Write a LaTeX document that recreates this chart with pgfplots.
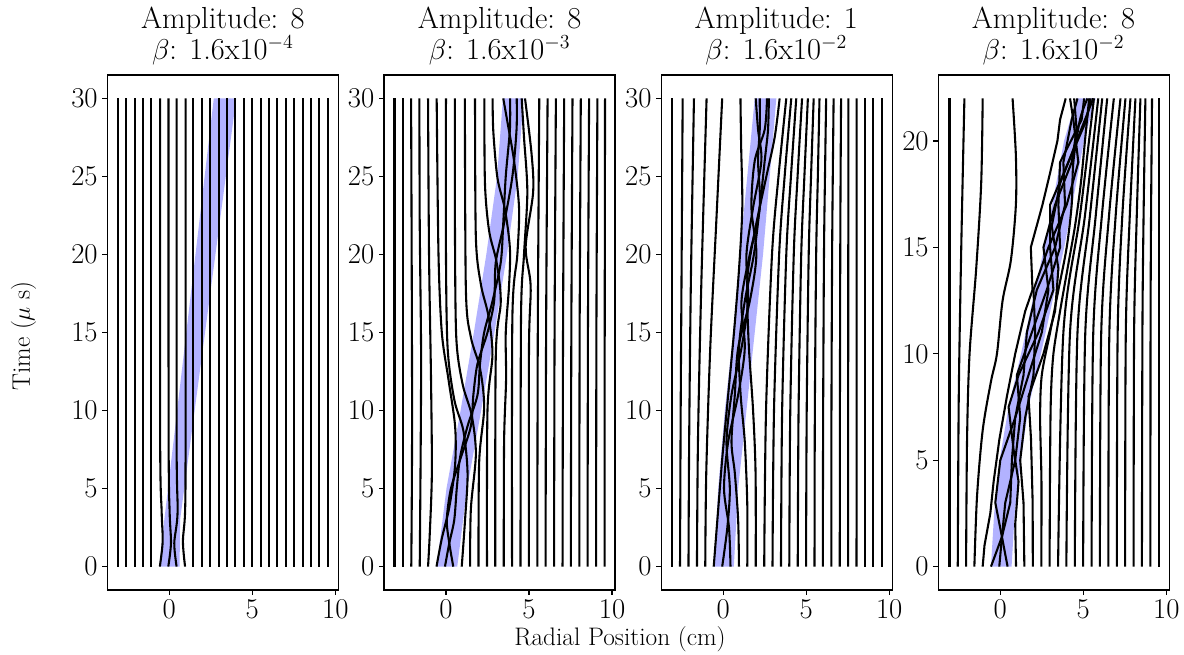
\documentclass[border=0pt]{standalone}
\usepackage{pgfplots}
\pgfplotsset{compat=1.18}
\definecolor{bandblue}{RGB}{178,178,255}
\newcommand{\tickf}{\fontsize{20}{24}\selectfont}
\newcommand{\labf}{\fontsize{18.3}{22}\selectfont}
\newcommand{\titf}{\fontsize{22}{22.3bp}\selectfont}
\begin{document}
\begin{tikzpicture}
\path[use as bounding box] (0bp,0bp) rectangle (852.48bp,471.6bp);
\pgfplotsset{
  panel/.style={
    scale only axis, width=166.3bp, height=370.8bp, anchor=south west,
    xmin=-3.73, xmax=10.18, xtick={0,5,10},
    ymin=-1.5, ymax=31.5, ytick={0,5,...,30},
    tick align=outside, tick pos=left,
    major tick length=3.5bp,
    every tick/.append style={black, line width=0.8bp},
    axis line style={line width=0.8bp},
    tick label style={font=\tickf},
  },
  traj/.style={black, line width=1.5bp, smooth, no markers},
  zig/.style={black, line width=1.5bp, sharp plot, no markers},
  bandfill/.style={fill=bandblue, draw=none, no markers},
}

% ---------- panel 1: amplitude 8, beta 1.6e-4
\begin{axis}[panel, at={(77.3bp,46.8bp)}]
\addplot[bandfill] coordinates {(-0.6,0) (-0.3,3) (2.68,30) (4.03,30) (0.65,3) (0.62,0)};
\addplot[traj] coordinates {(-3.1,0) (-3.1,30)};
\addplot[traj] coordinates {(-2.6,0) (-2.6,30)};
\addplot[traj] coordinates {(-2.09,0) (-2.09,30)};
\addplot[traj] coordinates {(-1.58,0) (-1.58,30)};
\addplot[traj] coordinates {(-1.08,0) (-1.08,30)};
\addplot[traj] coordinates {(-0.57,0) (-0.4,1.6) (-0.46,3.5) (-0.55,8) (-0.55,30)};
\addplot[traj] coordinates {(-0.06,0) (0.1,1.5) (0.02,3.5) (-0.04,8) (-0.05,30)};
\addplot[traj] coordinates {(0.44,0) (0.3,1.5) (0.5,3.5) (0.44,8) (0.44,30)};
\addplot[traj] coordinates {(0.95,0) (0.82,1.6) (0.95,3.5) (0.98,8) (0.98,30)};
\addplot[traj] coordinates {(1.45,0) (1.45,30)};
\addplot[traj] coordinates {(1.96,0) (1.96,30)};
\addplot[traj] coordinates {(2.47,0) (2.47,30)};
\addplot[traj] coordinates {(2.97,0) (2.97,30)};
\addplot[traj] coordinates {(3.48,0) (3.48,30)};
\addplot[traj] coordinates {(3.98,0) (3.98,30)};
\addplot[traj] coordinates {(4.49,0) (4.49,30)};
\addplot[traj] coordinates {(4.99,0) (4.99,30)};
\addplot[traj] coordinates {(5.5,0) (5.5,30)};
\addplot[traj] coordinates {(6.0,0) (6.0,30)};
\addplot[traj] coordinates {(6.51,0) (6.51,30)};
\addplot[traj] coordinates {(7.02,0) (7.02,30)};
\addplot[traj] coordinates {(7.52,0) (7.52,30)};
\addplot[traj] coordinates {(8.03,0) (8.03,30)};
\addplot[traj] coordinates {(8.53,0) (8.53,30)};
\addplot[traj] coordinates {(9.04,0) (9.04,30)};
\addplot[traj] coordinates {(9.55,0) (9.55,30)};
\end{axis}

% ---------- panel 2: amplitude 8, beta 1.6e-3
\begin{axis}[panel, at={(276.5bp,46.8bp)}]
\addplot[bandfill] coordinates {(-0.56,0) (0.03,5) (0.88,10) (1.68,15) (2.43,20) (3.08,25) (3.43,30)
  (4.67,30) (4.32,25) (3.67,20) (2.92,15) (2.12,10) (1.27,5) (0.68,0)};
\addplot[traj] coordinates {(-3.1,0) (-3.1,30)};
\addplot[traj] coordinates {(-2.6,0) (-2.6,30)};
\addplot[traj] coordinates {(-2.09,0) (-2.04,10) (-2.1,30)};
\addplot[traj] coordinates {(-1.58,0) (-1.52,8) (-1.5,14) (-1.58,22) (-1.6,30)};
\addplot[traj] coordinates {(-1.08,0) (-0.98,2) (-0.85,6) (-0.9,12) (-1.02,20) (-1.08,30)};
\addplot[traj] coordinates {(-0.57,0) (-0.25,1.8) (0.2,3.8) (0.55,6.5) (0.55,9) (0.15,12) (-0.25,15) (-0.45,20) (-0.56,30)};
\addplot[traj] coordinates {(-0.06,0) (0.2,1.5) (0.5,3) (0.65,5) (0.85,7) (1.3,9) (1.9,11) (2.05,13) (2.3,15) (2.8,17) (3.3,19.5) (3.45,22) (3.6,25) (3.85,28) (3.86,30)};
\addplot[traj] coordinates {(0.44,0) (0.2,1.5) (0.05,3) (0.3,5) (0.9,7) (1.5,9) (1.65,11) (1.9,13) (2.5,15) (2.9,17) (3.0,19.5) (3.5,22) (4.0,25) (4.25,28) (4.26,30)};
\addplot[traj] coordinates {(0.95,0) (1.15,3) (1.3,6) (1.05,8.7) (0.5,10.7) (0.1,14) (0.0,20) (0.0,30)};
\addplot[traj] coordinates {(1.45,0) (1.5,3.7) (1.8,7.2) (1.55,9.7) (1.0,11.7) (0.62,14.7) (0.54,22) (0.54,30)};
\addplot[traj] coordinates {(1.96,0) (2.0,6.7) (2.3,10.2) (2.05,12.7) (1.5,14.7) (1.2,17.7) (1.14,30)};
\addplot[traj] coordinates {(2.47,0) (2.5,10) (2.8,13.6) (2.55,16.1) (2.1,18.1) (1.8,21.1) (1.75,30)};
\addplot[traj] coordinates {(2.97,0) (3.0,13.5) (3.3,17) (3.05,19.5) (2.6,21.5) (2.35,24.5) (2.31,30)};
\addplot[traj] coordinates {(3.48,0) (3.5,8) (3.62,12) (3.6,15) (3.8,18) (3.85,20.4) (3.55,22.9) (3.1,24.9) (2.85,27.9) (2.81,30)};
\addplot[traj] coordinates {(3.98,0) (4.0,16) (4.3,20) (4.4,23) (4.1,26) (3.7,28.5) (3.45,30)};
\addplot[traj] coordinates {(4.49,0) (4.52,16) (4.7,20) (4.9,24) (4.7,27.5) (4.56,30)};
\addplot[traj] coordinates {(4.99,0) (5.0,14) (5.1,18) (4.8,20.5) (5.25,24) (5.15,26.5) (4.76,30)};
\addplot[traj] coordinates {(5.5,0) (5.53,15) (5.62,30)};
\addplot[traj] coordinates {(6.0,0) (6.03,15) (6.12,30)};
\addplot[traj] coordinates {(6.51,0) (6.54,15) (6.62,30)};
\addplot[traj] coordinates {(7.02,0) (7.05,15) (7.12,30)};
\addplot[traj] coordinates {(7.52,0) (7.55,15) (7.62,30)};
\addplot[traj] coordinates {(8.03,0) (8.05,15) (8.12,30)};
\addplot[traj] coordinates {(8.53,0) (8.55,15) (8.62,30)};
\addplot[traj] coordinates {(9.04,0) (9.06,15) (9.12,30)};
\addplot[traj] coordinates {(9.55,0) (9.56,15) (9.58,30)};
\end{axis}

% ---------- panel 3: amplitude 1, beta 1.6e-2
\begin{axis}[panel, at={(476.1bp,46.8bp)}]
\addplot[bandfill] coordinates {(-0.56,0) (-0.3,5) (0.1,10) (0.6,15) (1.0,20) (1.45,25) (1.9,30)
  (3.2,30) (2.8,25) (2.4,20) (1.9,15) (1.4,10) (0.9,5) (0.64,0)};
\addplot[traj] coordinates {(-3.1,0) (-3.1,30)};
\addplot[traj] coordinates {(-2.6,0) (-2.56,10) (-2.5,20) (-2.44,30)};
\addplot[traj] coordinates {(-2.09,0) (-2.05,8) (-1.95,18) (-1.76,30)};
\addplot[traj] coordinates {(-1.58,0) (-1.52,8) (-1.32,18) (-1.0,30)};
\addplot[traj] coordinates {(-1.08,0) (-1.02,6) (-0.78,14) (-0.42,22) (-0.06,30)};
\addplot[traj] coordinates {(-0.57,0) (-0.35,3) (-0.05,7) (0.3,11) (0.65,15) (0.95,19) (1.15,23) (1.08,27) (1.04,30)};
\addplot[traj] coordinates {(-0.06,0) (0.25,2.5) (0.4,5) (0.2,8) (0.5,11) (1.1,14) (1.5,17) (1.4,20) (1.8,23) (2.3,26) (2.1,28) (1.96,30)};
\addplot[traj] coordinates {(0.44,0) (0.35,2.5) (0.05,5) (0.3,8) (0.9,11) (1.3,14) (1.1,17) (1.6,20) (2.2,23) (2.1,26) (2.2,28) (2.2,30)};
\addplot[traj] coordinates {(0.95,0) (0.9,3) (0.7,6) (0.5,8) (0.7,11) (0.9,14) (1.6,17) (2.0,20) (1.7,23) (1.9,26) (2.5,28) (2.64,30)};
\addplot[traj] coordinates {(1.45,0) (1.45,4) (1.3,8) (1.05,11) (0.95,14) (1.3,17) (1.85,20) (2.2,23) (2.5,26) (2.7,28) (2.75,30)};
\addplot[traj] coordinates {(1.96,0) (1.95,6) (1.8,10) (1.55,14) (1.45,17) (1.5,19) (2.0,22) (2.6,25) (3.1,27.5) (3.4,30)};
\addplot[traj] coordinates {(2.47,0) (2.58,10) (2.94,20) (3.33,25) (3.8,30)};
\addplot[traj] coordinates {(2.97,0) (3.06,10) (3.37,20) (3.7,25) (4.1,30)};
\addplot[traj] coordinates {(3.48,0) (3.55,10) (3.8,20) (4.08,25) (4.4,30)};
\addplot[traj] coordinates {(3.98,0) (4.04,10) (4.25,20) (4.48,25) (4.75,30)};
\addplot[traj] coordinates {(4.49,0) (4.54,10) (4.7,20) (4.89,25) (5.1,30)};
\addplot[traj] coordinates {(4.99,0) (5.03,10) (5.15,20) (5.29,25) (5.45,30)};
\addplot[traj] coordinates {(5.5,0) (5.52,10) (5.6,20) (5.7,25) (5.8,30)};
\addplot[traj] coordinates {(6.0,0) (6.02,10) (6.07,20) (6.13,25) (6.2,30)};
\addplot[traj] coordinates {(6.51,0) (6.52,10) (6.56,20) (6.6,25) (6.65,30)};
\addplot[traj] coordinates {(7.02,0) (7.03,10) (7.05,20) (7.07,25) (7.1,30)};
\addplot[traj] coordinates {(7.52,0) (7.54,30)};
\addplot[traj] coordinates {(8.03,0) (8.04,30)};
\addplot[traj] coordinates {(8.53,0) (8.53,30)};
\addplot[traj] coordinates {(9.04,0) (9.04,30)};
\addplot[traj] coordinates {(9.55,0) (9.55,30)};
\end{axis}

% ---------- panel 4: amplitude 8, beta 1.6e-2
\begin{axis}[panel, at={(675.6bp,46.8bp)}, ymin=-1.1, ymax=23.1, ytick={0,5,...,20}]
\addplot[bandfill] coordinates {(-0.56,0) (-0.37,2.5) (-0.04,5) (0.5,7.5) (1.25,10) (1.95,12.5) (2.65,15) (3.25,17.5) (3.84,20) (4.6,22)
  (5.75,22) (5.04,20) (4.45,17.5) (3.85,15) (3.15,12.5) (2.45,10) (1.7,7.5) (1.24,5) (0.87,2.5) (0.68,0)};
\addplot[traj] coordinates {(-3.06,0) (-3.06,22)};
\addplot[traj] coordinates {(-2.56,0) (-2.5,8) (-2.35,15) (-2.16,22)};
\addplot[traj] coordinates {(-2.06,0) (-2.0,6) (-1.85,10) (-1.45,14) (-1.15,18) (-1.06,22)};
\addplot[traj] coordinates {(-1.56,0) (-1.4,3.3) (-1.06,6.4) (-0.56,8.7) (-0.2,10) (0.14,12.5) (0.64,14.4) (0.94,17) (0.94,19.3) (0.74,22)};
\addplot[zig] coordinates {(-1.06,0) (-0.95,1) (-0.6,2.5) (-0.4,4) (-0.05,6) (0.4,8) (0.9,10) (1.5,12) (1.94,13) (1.84,15) (2.54,17) (3.0,18.5) (3.44,20) (3.6,21) (3.94,22)};
\addplot[zig] coordinates {(-0.56,0) (0.1,1.4) (0.6,3) (0.7,5) (0.9,7) (1.7,9) (2.5,11) (2.9,13) (2.6,15) (3.3,17) (4.3,19) (4.6,20.5) (4.45,22)};
\addplot[zig] coordinates {(-0.06,0) (0.1,1.4) (-0.3,3) (0.0,5) (0.9,7) (1.4,9) (1.6,11) (2.2,13) (3.3,15) (3.9,17) (3.8,19) (4.3,21) (4.65,22)};
\addplot[zig] coordinates {(0.44,0) (0.1,1.4) (0.3,3) (0.9,5) (1.2,7) (1.0,9) (1.9,11) (2.8,13) (3.6,15) (3.5,17) (3.6,19) (4.9,21) (5.05,22)};
\addplot[zig] coordinates {(0.95,0) (0.9,2) (1.1,4) (0.8,5.5) (0.5,7.5) (1.1,9) (2.3,11) (3.2,13) (3.0,15) (3.0,17) (4.1,19) (5.2,21) (5.45,22)};
\addplot[zig] coordinates {(1.45,0) (1.4,3) (1.2,5) (1.5,7) (2.0,9) (2.1,11) (2.0,13) (2.9,15) (4.0,17) (4.7,19) (4.4,21) (4.2,22)};
\addplot[zig] coordinates {(1.96,0) (1.95,3) (1.85,6) (1.7,8) (2.6,10) (3.3,12) (3.5,14) (3.1,16) (3.6,18) (4.6,20) (5.6,22)};
\addplot[traj] coordinates {(2.47,0) (2.48,4) (2.4,7) (2.5,9) (3.0,11) (3.5,13) (4.0,15) (4.3,17) (4.4,19) (4.8,21) (5.25,22)};
\addplot[traj] coordinates {(2.97,0) (3.0,5) (3.05,8) (3.2,10) (3.6,12) (4.05,14) (4.5,16) (4.85,18) (5.1,20) (5.35,22)};
\addplot[traj] coordinates {(3.48,0) (3.8,11) (4.8,16.5) (5.64,22)};
\addplot[traj] coordinates {(3.98,0) (4.2,11) (5.1,16.5) (5.9,22)};
\addplot[traj] coordinates {(4.49,0) (4.65,11) (5.4,16.5) (6.14,22)};
\addplot[traj] coordinates {(4.99,0) (5.12,11) (5.75,16.5) (6.44,22)};
\addplot[traj] coordinates {(5.5,0) (5.6,11) (6.12,16.5) (6.84,22)};
\addplot[traj] coordinates {(6.0,0) (6.08,11) (6.55,16.5) (7.24,22)};
\addplot[traj] coordinates {(6.51,0) (6.57,11) (6.95,16.5) (7.54,22)};
\addplot[traj] coordinates {(7.02,0) (7.07,11) (7.35,16.5) (7.84,22)};
\addplot[traj] coordinates {(7.52,0) (7.56,11) (7.8,16.5) (8.14,22)};
\addplot[traj] coordinates {(8.03,0) (8.06,11) (8.22,16.5) (8.44,22)};
\addplot[traj] coordinates {(8.53,0) (8.56,11) (8.63,16.5) (8.74,22)};
\addplot[traj] coordinates {(9.04,0) (9.05,11) (9.08,16.5) (9.14,22)};
\addplot[traj] coordinates {(9.55,0) (9.55,22)};
\end{axis}

% titles (anchor base = baseline of the second line) and axis labels
\node[anchor=base, align=center, font=\titf] at (160.4bp,428.9bp) {Amplitude: 8\\$\beta$: 1.6x10$^{-4}$};
\node[anchor=base, align=center, font=\titf] at (359.7bp,428.9bp) {Amplitude: 8\\$\beta$: 1.6x10$^{-3}$};
\node[anchor=base, align=center, font=\titf] at (558.9bp,428.9bp) {Amplitude: 1\\$\beta$: 1.6x10$^{-2}$};
\node[anchor=base, align=center, font=\titf] at (758.5bp,428.9bp) {Amplitude: 8\\$\beta$: 1.6x10$^{-2}$};
\node[rotate=90, font=\labf] at (17bp,229.7bp) {Time ($\mu$ s)};
\node[anchor=base, font=\labf] at (446.4bp,7.2bp) {Radial Position (cm)};
\end{tikzpicture}
\end{document}
